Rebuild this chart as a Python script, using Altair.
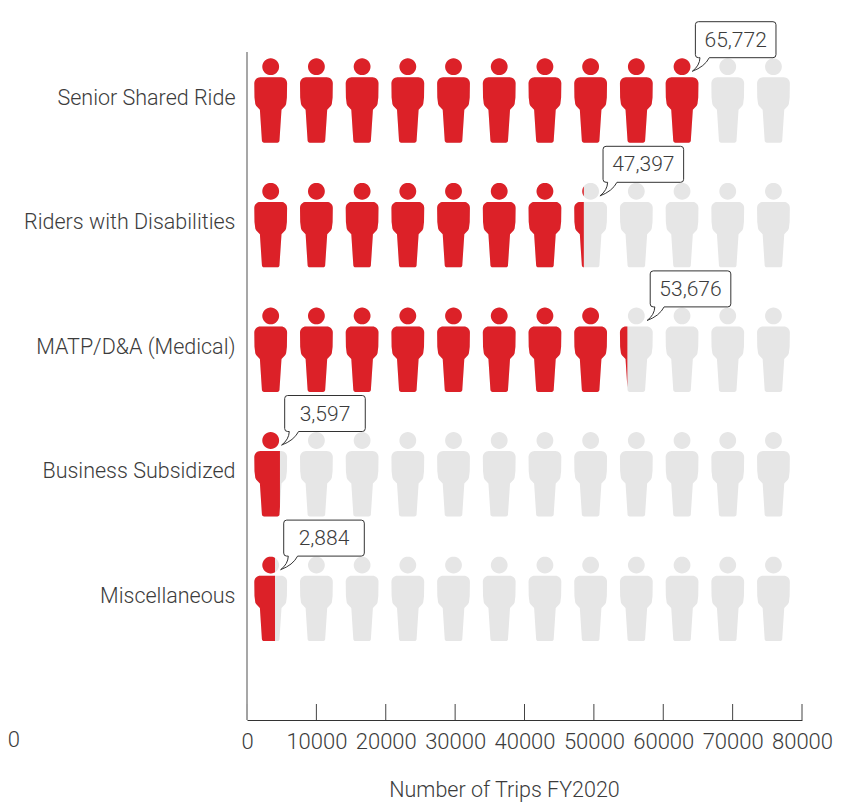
import math
import altair as alt
import pandas as pd

categories = ["Senior Shared Ride", "Riders with Disabilities", "MATP/D&A (Medical)",
              "Business Subsidized", "Miscellaneous"]
trips = [65772, 47397, 53676, 3597, 2884]
callout_centers = [70440, 57130, 63930, 11240, 11100]
x_ticks = [0, 10000, 20000, 30000, 40000, 50000, 60000, 70000, 80000]

ICONS_PER_ROW = 12
FIRST_ICON = 3416
ICON_STEP = 6588
UNITS_PER_PX = 80000 / 555
FILL_OFFSET = 8 * UNITS_PER_PX

TEXT = "#3c3c3c"
FONT = "Roboto"
WEIGHT = 300
FS = 21.5
RED = "#DC2128"
GREY = "#E6E6E6"


def arc(cx, cy, r, a0, a1, n=8):
    return [(cx + r * math.cos(math.radians(a0 + (a1 - a0) * k / n)),
             cy + r * math.sin(math.radians(a0 + (a1 - a0) * k / n))) for k in range(n + 1)]


HEAD = arc(0, -33.8, 8.4, 0, 360, 32)[:-1]
BODY = (
    arc(-10.4, -17.2, 6, 180, 270)
    + arc(10.4, -17.2, 6, 270, 360)
    + [(16.2, -3), (15.4, 3.5), (14.6, 5.2), (10.8, 9.2), (8.8, 39.5)]
    + arc(6.6, 40, 2.2, 0, 90, 4)
    + arc(-6.6, 40, 2.2, 90, 180, 4)
    + [(-10.8, 9.2), (-14.6, 5.2), (-15.4, 3.5), (-16.2, -3)]
)


def clip_right(poly, cut):
    out = []
    for k, (x0, y0) in enumerate(poly):
        x1, y1 = poly[(k + 1) % len(poly)]
        if x0 <= cut:
            out.append((x0, y0))
        if (x0 <= cut) != (x1 <= cut):
            out.append((cut, y0 + (y1 - y0) * (cut - x0) / (x1 - x0)))
    return out


def to_path(polys):
    parts = []
    for p in polys:
        if len(p) >= 3:
            parts.append("M" + "L".join(f"{x:.2f},{y:.2f}" for x, y in p) + "Z")
    return "".join(parts)


grey_rows, red_rows = [], []
full_path = to_path([HEAD, BODY])
for cat, value in zip(categories, trips):
    cut_units = value + FILL_OFFSET
    for i in range(ICONS_PER_ROW):
        center = FIRST_ICON + i * ICON_STEP
        grey_rows.append({"category": cat, "x": center, "path": full_path})
        cut_px = (cut_units - center) / UNITS_PER_PX
        if cut_px >= 16.2:
            red_rows.append({"category": cat, "x": center, "path": full_path})
        elif cut_px > -16.2:
            red_rows.append({"category": cat, "x": center,
                             "path": to_path([clip_right(HEAD, cut_px), clip_right(BODY, cut_px)])})

CALLOUT = ("M-37.3,-18L37.3,-18Q40.3,-18 40.3,-15L40.3,15Q40.3,18 37.3,18"
           "L-26.4,18Q-31,27 -43.4,31.6Q-36,26 -35.7,18L-37.3,18Q-40.3,18 -40.3,15"
           "L-40.3,-15Q-40.3,-18 -37.3,-18Z")

callouts = pd.DataFrame({
    "category": categories,
    "x": callout_centers,
    "label": [f"{v:,}" for v in trips],
})
ticks = pd.DataFrame({"x": x_ticks})

x_scale = alt.Scale(domain=[0, 80000], range=[0, 555], nice=False, zero=False)
y_scale = alt.Scale(type="point", domain=categories, range=[48.5, 546.9], padding=0)

x_enc = alt.X("x:Q", scale=x_scale, axis=alt.Axis(
    values=x_ticks, format="d", tickSize=0, grid=False, domainColor="#333333", domainWidth=1,
    labelFont=FONT, labelFontSize=22, labelFontWeight=WEIGHT, labelColor=TEXT, labelPadding=11,
    labelOverlap=False, labelFlush=False, title="Number of Trips FY2020", titleFont=FONT,
    titleFontSize=FS, titleFontWeight=WEIGHT, titleColor=TEXT, titleX=257, titleY=70,
    titleAlign="center", titleBaseline="middle"))
y_enc = alt.Y("category:N", scale=y_scale, axis=alt.Axis(
    domain=False, ticks=False, grid=False, title=None, labelFont=FONT, labelFontSize=FS,
    labelFontWeight=WEIGHT, labelColor=TEXT, labelPadding=12, labelOffset=-2.5, labelLimit=300))

grey = alt.Chart(pd.DataFrame(grey_rows)).mark_point(
    filled=True, size=4, color=GREY, opacity=1, strokeWidth=0
).encode(x=x_enc, y=y_enc, shape=alt.Shape("path:N", scale=None))

red = alt.Chart(pd.DataFrame(red_rows)).mark_point(
    filled=True, size=4, color=RED, opacity=1, strokeWidth=0
).encode(x=x_enc, y=y_enc, shape=alt.Shape("path:N", scale=None))

y_line = alt.Chart(pd.DataFrame({"v": [0]})).mark_rule(color="#8a8a8a", strokeWidth=1.5).encode(
    x=alt.value(0), y=alt.value(0), y2=alt.value(652))

tick_rules = alt.Chart(ticks).mark_rule(color="#444444", strokeWidth=1).encode(
    x=x_enc, y=alt.value(652), y2=alt.value(668))

bubble = alt.Chart(callouts).mark_point(
    shape=CALLOUT, size=4, filled=True, fill="white", stroke="#333333", strokeWidth=1, opacity=1,
    yOffset=-60.8
).encode(x=x_enc, y=y_enc)

bubble_text = alt.Chart(callouts).mark_text(
    font=FONT, fontSize=21, fontWeight=WEIGHT, color=TEXT, baseline="middle", align="center",
    yOffset=-59.8
).encode(x=x_enc, y=y_enc, text="label:N")

stray = alt.Chart(pd.DataFrame({"t": ["00"]})).mark_text(
    font=FONT, fontSize=22, fontWeight=WEIGHT, color=TEXT, align="right", baseline="middle"
).encode(x=alt.value(-227), y=alt.value(688), text="t:N")

chart = alt.layer(grey, red, y_line, tick_rules, bubble, bubble_text, stray).properties(
    width=555, height=668, autosize=alt.AutoSizeParams(type="none"),
    padding={"left": 239, "top": 44, "right": 38, "bottom": 82},
).configure_view(stroke=None)

chart.save("out.html", embed_options={"renderer": "svg", "actions": False})
